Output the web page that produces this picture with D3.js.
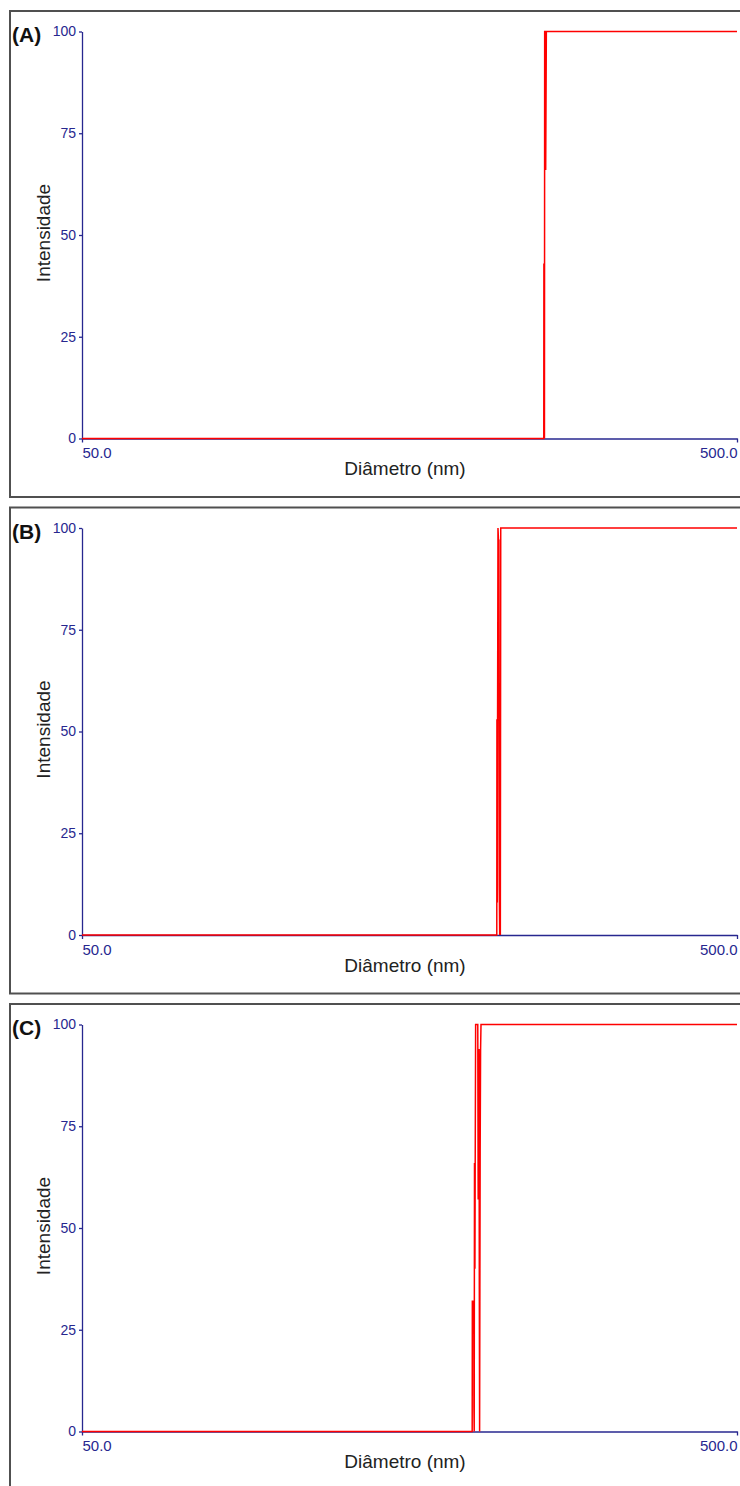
<!DOCTYPE html>
<html>
<head>
<meta charset="utf-8">
<script src="https://cdn.jsdelivr.net/npm/d3@7"></script>
<style>
body { margin: 0; background: #fff; }
svg { display: block; }
</style>
</head>
<body>
<div id="chart"></div>
<script>
// panel labels and axis ticks
var panelLabels = ["(A)", "(B)", "(C)"];
var yTicks = [0, 25, 50, 75, 100];
var xTicks = [50, 500];
var xTickLabels = ["50.0", "500.0"];
var xTitle = "Diâmetro (nm)";
var yTitle = "Intensidade";

// diameter (nm) / intensity
var diamA = [50, 253.5, 253.6, 253.8, 253.9, 254.1, 254.3, 254.6, 255.2, 255.8, 256.2, 500];
var intA  = [0,  0,     43,    0,     43,    0,     100,   100,   66,    100,   100,   100];

var diamB = [50, 214.9, 215.0, 215.3, 215.5, 215.8, 216.2, 216.5, 216.8, 217.1, 217.4, 217.6, 217.9, 500];
var intB  = [0,  0,     53,    8,     53,    100,   97,    97,    12,    0,     23,    0,     100,   100];

var diamC = [50, 197.1, 197.2, 198.2, 198.3, 198.5, 198.7, 199.0, 199.2, 199.5, 201.0, 201.3, 201.6, 201.9, 202.1, 202.3, 202.5, 202.7, 203.0, 203.3, 500];
var intC  = [0,  0,     32,    32,    6,     0,     66,    40,    66,    100,   100,   57,    77,    94,    35,    0,     35,    69,    94,    100,   100];

var series = [
	d3.zip(diamA, intA),
	d3.zip(diamB, intB),
	d3.zip(diamC, intC)
];

var svgWidth = 740,
	svgHeight = 1486,
	panelTops = [11, 507.5, 1004],
	panelHeight = 486,
	plot = { left: 82, right: 737, top: 20.5, bottom: 427.5 };

var navy = "#27278f";

var svg = d3.select("#chart").append("svg")
	.attr("width", svgWidth)
	.attr("height", svgHeight);

var x = d3.scaleLog()
	.domain([50, 500])
	.range([plot.left, plot.right]);

var y = d3.scaleLinear()
	.domain([0, 100])
	.range([plot.bottom, plot.top]);

var line = d3.line()
	.x(function(d) { return x(d[0]); })
	.y(function(d) { return y(d[1]); });

series.forEach(function(data, i) {
	var g = svg.append("g")
		.attr("transform", "translate(0," + panelTops[i] + ")");

	// frame
	g.append("rect")
		.attr("x", 10)
		.attr("y", 0)
		.attr("width", 760)
		.attr("height", panelHeight)
		.attr("fill", "#fff")
		.attr("stroke", "#505050")
		.attr("stroke-width", 2);

	// y axis
	var yAxis = g.append("g")
		.attr("transform", "translate(" + plot.left + ",0)")
		.call(d3.axisLeft(y).tickValues(yTicks).tickSize(3).tickSizeOuter(0).tickPadding(3));

	yAxis.select(".domain").attr("stroke", navy).attr("stroke-width", 1.3);
	yAxis.selectAll(".tick line").attr("stroke", navy).attr("stroke-width", 1.3);
	yAxis.selectAll(".tick text")
		.attr("fill", navy)
		.attr("font-family", "Liberation Sans, Arial, sans-serif")
		.attr("font-size", 14);

	// x axis
	var xAxis = g.append("g")
		.attr("transform", "translate(0," + plot.bottom + ")")
		.call(d3.axisBottom(x).tickValues(xTicks).tickSize(4).tickSizeOuter(0).tickPadding(5)
			.tickFormat(function(d, j) { return xTickLabels[j]; }));

	xAxis.select(".domain").attr("stroke", navy).attr("stroke-width", 1.3);
	xAxis.selectAll(".tick line").attr("stroke", navy).attr("stroke-width", 1.3);
	xAxis.selectAll(".tick text")
		.attr("fill", navy)
		.attr("font-family", "Liberation Sans, Arial, sans-serif")
		.attr("font-size", 15)
		.attr("text-anchor", function(d, j) { return j == 0 ? "start" : "end"; });

	// titles
	g.append("text")
		.attr("x", 405)
		.attr("y", 464)
		.attr("text-anchor", "middle")
		.attr("font-family", "Liberation Sans, Arial, sans-serif")
		.attr("font-size", 19)
		.attr("fill", "#222")
		.text(xTitle);

	g.append("text")
		.attr("transform", "translate(50," + (y(50) - 2) + ") rotate(-90)")
		.attr("text-anchor", "middle")
		.attr("font-family", "Liberation Sans, Arial, sans-serif")
		.attr("font-size", 19)
		.attr("fill", "#222")
		.text(yTitle);

	g.append("text")
		.attr("x", 12)
		.attr("y", 31)
		.attr("font-family", "Liberation Sans, Arial, sans-serif")
		.attr("font-weight", "bold")
		.attr("font-size", 21)
		.attr("fill", "#111")
		.text(panelLabels[i]);

	// data
	g.append("path")
		.datum(data)
		.attr("d", line)
		.attr("fill", "none")
		.attr("stroke", "#ff0000")
		.attr("stroke-width", 1.5);
});
</script>
</body>
</html>
